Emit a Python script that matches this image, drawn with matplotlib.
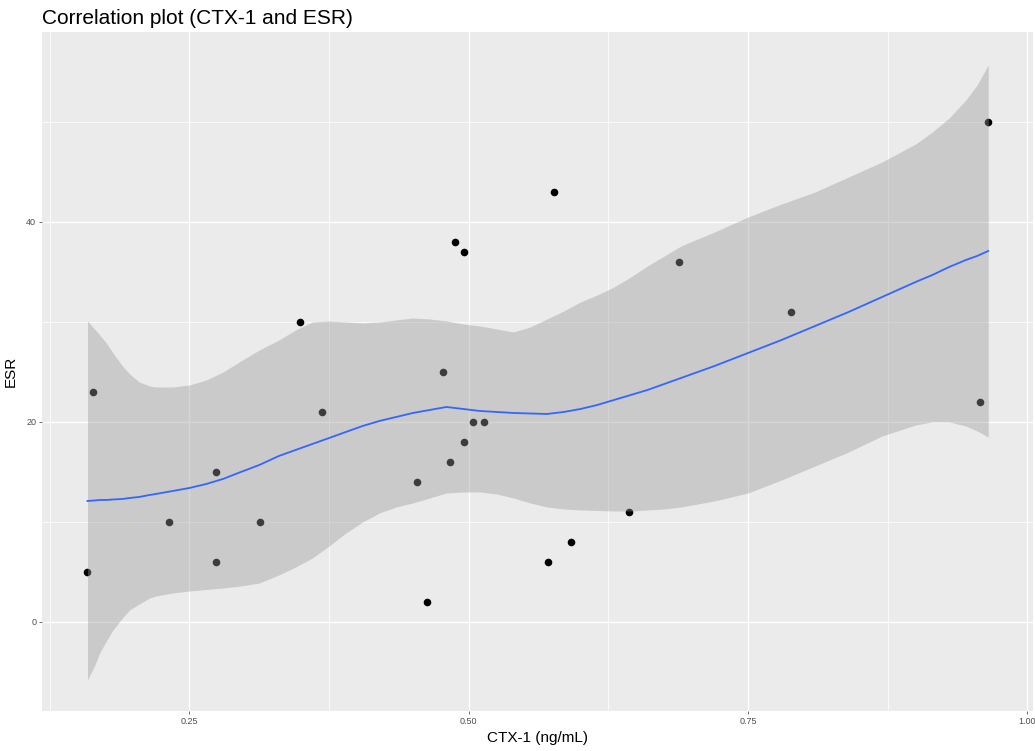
import numpy as np
import matplotlib
matplotlib.use("Agg")
from matplotlib import pyplot as plt
from matplotlib.ticker import MultipleLocator

# Scatter data
ctx = [0.158, 0.164, 0.232, 0.2735, 0.2735, 0.313, 0.349, 0.369, 0.454, 0.463,
       0.477, 0.483, 0.488, 0.496, 0.496, 0.504, 0.514, 0.571, 0.576, 0.5915,
       0.643, 0.688, 0.788, 0.958, 0.965]
esr = [5, 23, 10, 15, 6, 10, 30, 21, 14, 2,
       25, 16, 38, 37, 18, 20, 20, 6, 43, 8,
       11, 36, 31, 22, 50]

# Smoothed fit and its confidence band
fit_x = [0.1587, 0.165, 0.1696, 0.1756, 0.1815, 0.19, 0.1964, 0.205, 0.2143,
         0.22, 0.235, 0.25, 0.265, 0.28, 0.296, 0.3125, 0.33, 0.345, 0.36,
         0.375, 0.39, 0.405, 0.42, 0.435, 0.45, 0.465, 0.48, 0.495, 0.51,
         0.525, 0.54, 0.555, 0.57, 0.585, 0.60, 0.615, 0.63, 0.645, 0.66,
         0.675, 0.69, 0.72, 0.75, 0.78, 0.81, 0.84, 0.87, 0.90, 0.915,
         0.93, 0.945, 0.955, 0.965]
fit_y = [12.1, 12.15, 12.2, 12.2, 12.25, 12.3, 12.4, 12.5, 12.7,
         12.8, 13.1, 13.4, 13.8, 14.3, 15.0, 15.7, 16.6, 17.2, 17.8,
         18.4, 19.0, 19.6, 20.1, 20.5, 20.9, 21.2, 21.5, 21.3, 21.1,
         21.0, 20.9, 20.85, 20.8, 21.0, 21.3, 21.7, 22.2, 22.7, 23.2,
         23.8, 24.4, 25.6, 26.9, 28.2, 29.6, 31.0, 32.5, 34.0, 34.7,
         35.5, 36.2, 36.6, 37.1]
fit_hi = [30.1, 29.3, 28.7, 27.9, 26.9, 25.6, 24.8, 24.0, 23.6,
          23.5, 23.5, 23.7, 24.2, 25.0, 26.1, 27.2, 28.2, 29.2, 30.0,
          30.1, 30.0, 29.9, 30.0, 30.2, 30.4, 30.3, 30.1, 29.8, 29.6,
          29.3, 29.0, 29.5, 30.3, 31.1, 32.0, 32.7, 33.5, 34.5, 35.6,
          36.6, 37.6, 39.0, 40.5, 41.8, 43.0, 44.5, 46.0, 47.8, 49.0,
          50.4, 52.2, 53.7, 55.7]
fit_lo = [-5.8, -4.4, -3.1, -1.9, -0.8, 0.4, 1.2, 1.8, 2.4,
          2.6, 2.9, 3.1, 3.25, 3.4, 3.6, 3.9, 4.7, 5.5, 6.4,
          7.6, 8.9, 10.0, 10.9, 11.5, 11.9, 12.4, 12.9, 13.0, 13.0,
          12.8, 12.4, 11.9, 11.5, 11.3, 11.2, 11.15, 11.1, 11.1, 11.2,
          11.3, 11.5, 12.1, 12.9, 14.2, 15.6, 17.0, 18.6, 19.7, 20.0,
          20.0, 19.6, 19.1, 18.5]

plt.rcParams['font.family'] = ['Liberation Sans', 'DejaVu Sans']

fig = plt.figure(figsize=(10.35, 7.51), dpi=100)
ax = fig.add_axes([0.0406, 0.0533, 0.9574, 0.9041])

# ggplot grey theme
ax.set_facecolor('#EBEBEB')
for s in ax.spines.values():
    s.set_visible(False)
ax.set_axisbelow(True)
ax.xaxis.set_major_locator(MultipleLocator(0.25))
ax.xaxis.set_minor_locator(MultipleLocator(0.125))
ax.yaxis.set_major_locator(MultipleLocator(20))
ax.yaxis.set_minor_locator(MultipleLocator(10))
ax.grid(which='major', color='white', linewidth=1.0)
ax.grid(which='minor', color='white', linewidth=0.55)
ax.tick_params(which='major', length=2.2, width=0.5, color='#333333',
               labelsize=6.5, labelcolor='#4D4D4D', pad=2)
ax.tick_params(which='minor', length=0)

ax.scatter(ctx, esr, s=30, color='black', zorder=2, linewidths=0)

# confidence band drawn over the points, as ggplot does
ax.fill_between(fit_x, fit_lo, fit_hi, color='#999999', alpha=0.4,
                linewidth=0, zorder=3)
ax.plot(fit_x, fit_y, color='#3366FF', linewidth=1.3, zorder=4)

ax.set_xlim(0.118, 1.005)
ax.set_ylim(-8.9, 59)
ax.set_xticks([0.25, 0.5, 0.75, 1.0])
ax.set_xticklabels(['0.25', '0.50', '0.75', '1.00'])

ax.set_xlabel('CTX-1 (ng/mL)', fontsize=11, labelpad=4)
ax.set_ylabel('ESR', fontsize=11, labelpad=6)
ax.set_title('Correlation plot (CTX-1 and ESR)', fontsize=15, loc='left',
             pad=6)

fig.savefig('out.png', dpi=100)
